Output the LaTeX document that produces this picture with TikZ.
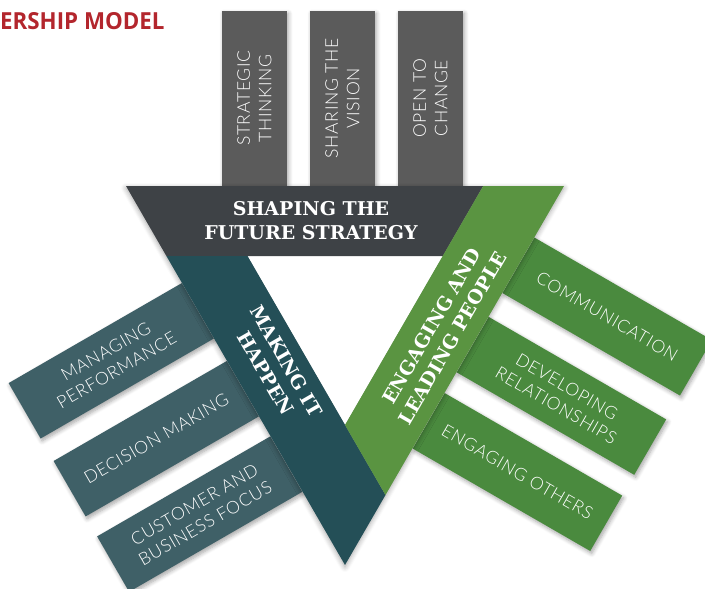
\documentclass[tikz,border=0pt]{standalone}
\usepackage{fontspec}
\setmainfont{Lato}
\newfontfamily\boxfont[LetterSpace=4]{Lato Light}
\newfontfamily\bandfont{DejaVu Serif}
\newfontfamily\titlefont[FakeStretch=0.95]{Open Sans}
\usetikzlibrary{shadows.blur}

\definecolor{topgray}{HTML}{5B5B5B}
\definecolor{bandgray}{HTML}{3E4246}
\definecolor{bandteal}{HTML}{244F57}
\definecolor{boxteal}{HTML}{3F6067}
\definecolor{bandgreen}{HTML}{5A9441}
\definecolor{boxgreen}{HTML}{4A8A3E}
\definecolor{titlered}{HTML}{B3262D}

\tikzset{
  softshadow/.style={blur shadow={shadow xshift=1.5pt, shadow yshift=-2.5pt,
      shadow blur radius=4pt, shadow blur steps=6, shadow opacity=35}},
  itembox/.style={softshadow, inner sep=0pt, align=center, text=white,
      font=\boxfont\fontsize{17.5}{21.5}\selectfont, minimum height=64pt},
  bandlabel/.style={inner sep=0pt, align=center, text=white,
      font=\bandfont\bfseries\fontsize{19}{24}\selectfont},
}

\begin{document}
\begin{tikzpicture}[x=1pt,y=-1pt]
\useasboundingbox (0,0) rectangle (705,589);
\clip (0,0) rectangle (705,589);

% heading
\node[anchor=base west, inner sep=0pt, text=titlered,
      font=\titlefont\bfseries\fontsize{23.5}{26}\selectfont] (title) at (0,29) {ERSHIP MODEL};

% competencies above the strategy band
\node[itembox, fill=topgray, rotate=90, anchor=west, minimum width=175pt, minimum height=65pt]
  (st) at (254.5,186) {STRATEGIC\\THINKING};
\node[itembox, fill=topgray, rotate=90, anchor=west, minimum width=175pt, minimum height=65pt]
  (sv) at (342.5,186) {SHARING THE\\VISION};
\node[itembox, fill=topgray, rotate=90, anchor=west, minimum width=175pt, minimum height=65pt]
  (oc) at (430.5,186) {OPEN TO\\CHANGE};

% competencies on the left band
\node[itembox, fill=boxteal, rotate=30, anchor=east, minimum width=200pt]
  (mp) at (198,310.7) {MANAGING\\PERFORMANCE};
\node[itembox, fill=boxteal, rotate=30, anchor=east, minimum width=200pt]
  (dm) at (243,388.6) {DECISION MAKING};
\node[itembox, fill=boxteal, rotate=30, anchor=east, minimum width=200pt]
  (cb) at (286.5,464) {CUSTOMER AND\\BUSINESS FOCUS};

% competencies on the right band
\node[itembox, fill=boxgreen, rotate=-30, anchor=west, minimum width=205pt]
  (cm) at (518.25,265.2) {COMMUNICATION};
\node[itembox, fill=boxgreen, rotate=-30, anchor=west, minimum width=205pt]
  (dr) at (472.5,344.5) {DEVELOPING\\RELATIONSHIPS};
\node[itembox, fill=boxgreen, rotate=-30, anchor=west, minimum width=205pt]
  (eo) at (428.5,420.7) {ENGAGING OTHERS};

% triangle corners
\coordinate (OL) at (126,186);
\coordinate (OR) at (564,186);
\coordinate (OB) at (345,565);
\coordinate (IL) at (247.5,256);
\coordinate (IR) at (442.8,256);
\coordinate (IB) at (345,425);
\coordinate (GT) at (483.2,186);
\coordinate (TL) at (166.4,256);
\coordinate (TG) at (385.5,495);

% shadow under the whole triangle, with its open middle kept white
\path[blur shadow={shadow xshift=0pt, shadow yshift=-2pt, shadow blur radius=5pt,
      shadow blur steps=6, shadow opacity=35}]
  (OL) -- (OR) -- (OB) -- cycle;
\fill[white] (IL) -- (IR) -- (IB) -- cycle;

% the three bands
\fill[bandgray]  (OL) -- (GT) -- (IR) -- (TL) -- cycle;
\fill[bandteal]  (TL) -- (IL) -- (TG) -- (OB) -- cycle;
\fill[bandgreen] (GT) -- (OR) -- (TG) -- (IB) -- cycle;

% band titles
\node[bandlabel] (shape) at (311,221) {SHAPING THE\\FUTURE STRATEGY};
\node[bandlabel, rotate=-60] (make) at (276,367) {MAKING IT\\HAPPEN};
\node[bandlabel, rotate=60] (engage) at (442,332) {ENGAGING AND\\LEADING PEOPLE};
\end{tikzpicture}
\end{document}
